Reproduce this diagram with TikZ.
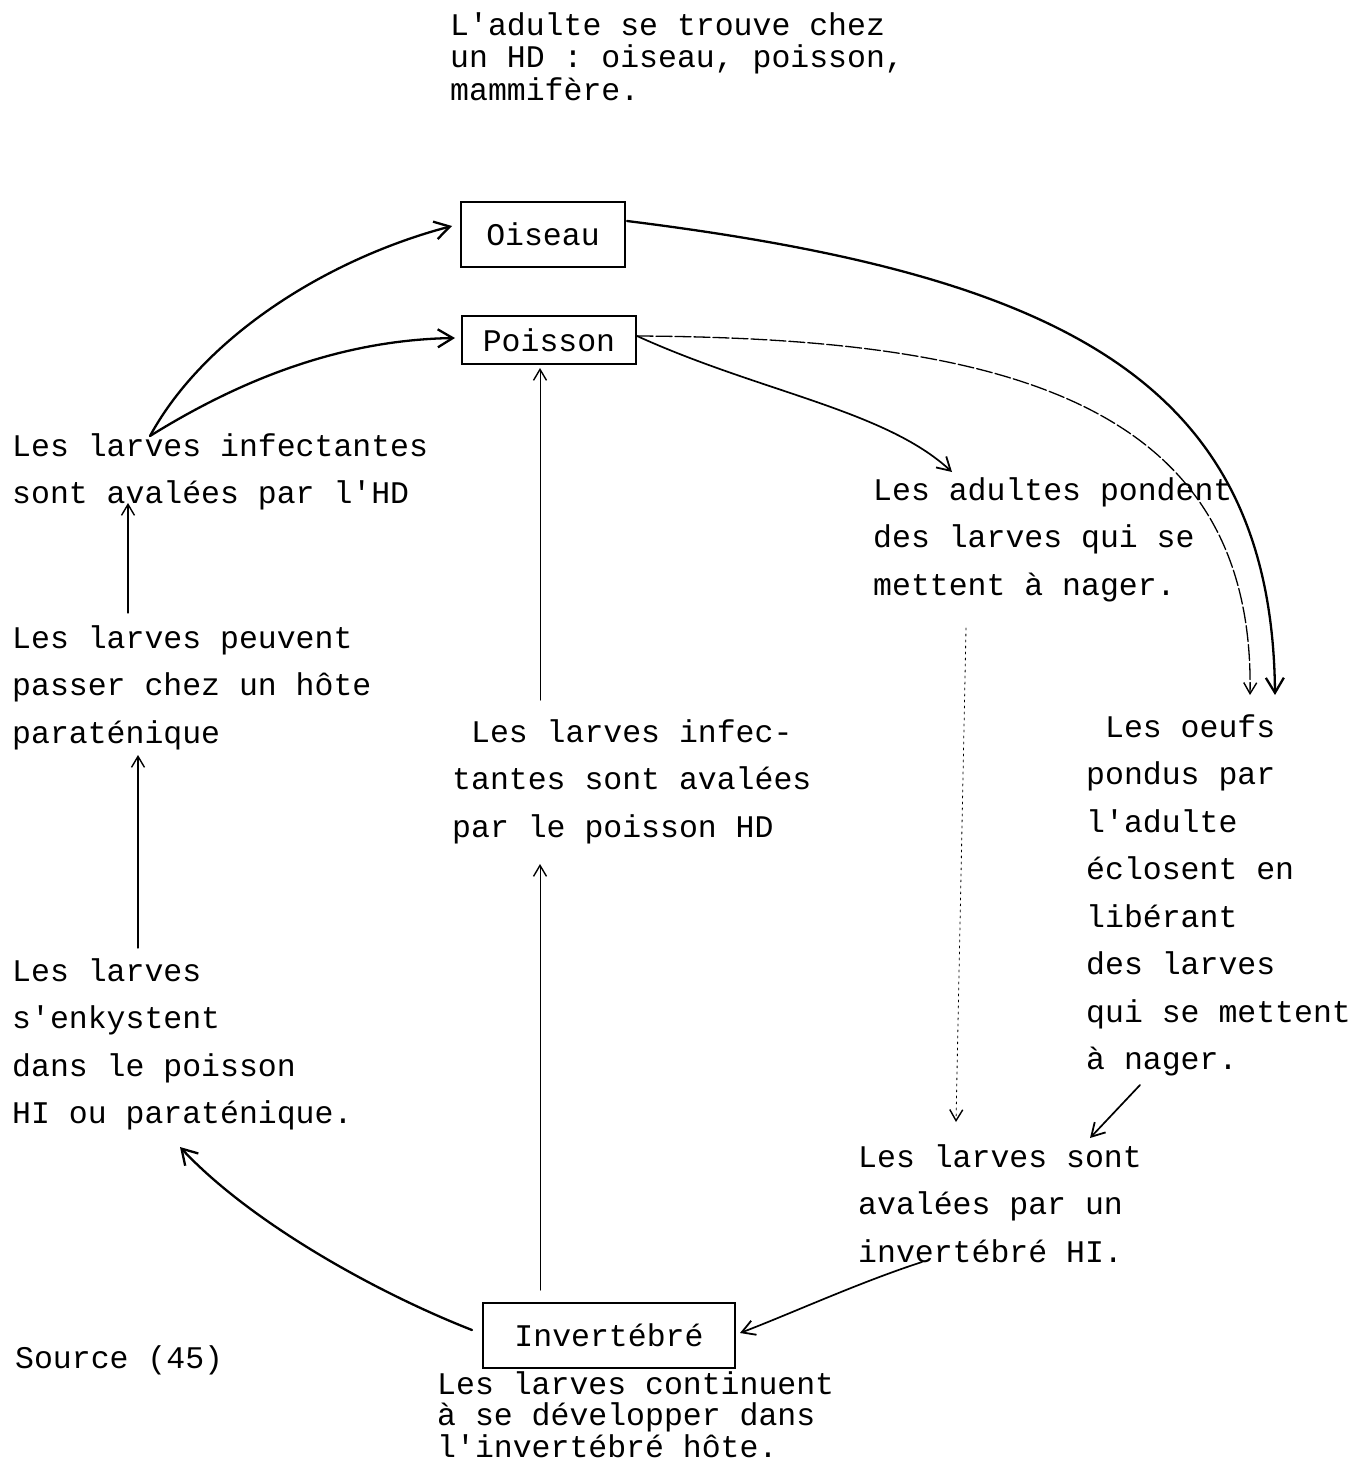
\documentclass[tikz,border=0pt]{standalone}
\usepackage{fontspec}
\setmonofont{Liberation Mono}
\usetikzlibrary{arrows.meta}
\begin{document}
\begin{tikzpicture}[x=1pt,y=-1pt,
  txt/.style={anchor=north west, inner sep=0pt, align=left, font=\ttfamily\fontsize{31.5}{47.5}\selectfont},
  tight/.style={font=\ttfamily\fontsize{31.5}{32.5}\selectfont},
  tighter/.style={font=\ttfamily\fontsize{31.5}{31.5}\selectfont},
  box/.style={draw, line width=1.8pt, inner sep=0pt, font=\ttfamily\fontsize{31.5}{38}\selectfont},
  bigarr/.style={line width=2.3pt, line cap=round, -{Straight Barb[length=15pt,width=18pt,line width=2.3pt]}},
  thinarr/.style={line width=1.3pt, line cap=round, -{Straight Barb[length=11pt,width=13pt,line width=1.4pt]}},
  midarr/.style={line width=1.7pt, line cap=round, -{Straight Barb[length=13pt,width=15pt,line width=1.8pt]}}
]
\useasboundingbox (0,0) rectangle (1358,1461);
\fill[white] (0,0) rectangle (1358,1461);

% texts
\node[txt, tight] (top) at (450,12) {L'adulte se trouve chez\\un HD : oiseau, poisson,\\mammifère.};
\node[txt] (left1) at (12,433) {Les larves infectantes\\sont avalées par l'HD};
\node[txt] (left2) at (12,625) {Les larves peuvent\\passer chez un hôte\\paraténique};
\node[txt] (left3) at (12,958) {Les larves\\s'enkystent\\dans le poisson\\HI ou paraténique.};
\node[txt] (mid) at (452,719) {\ Les larves infec-\\tantes sont avalées\\par le poisson HD};
\node[txt] (right1) at (873,477) {Les adultes pondent\\des larves qui se\\mettent à nager.};
\node[txt] (right2) at (1086,714) {\ Les oeufs\\pondus par\\l'adulte\\éclosent en\\libérant\\des larves\\qui se mettent\\à nager.};
\node[txt] (right3) at (858,1144) {Les larves sont\\avalées par un\\invertébré HI.};
\node[txt, tighter] (bottom) at (437,1371) {Les larves continuent\\à se développer dans\\l'invertébré hôte.};
\node[txt] (src) at (15,1345) {Source (45)};

% boxes
\node[box, minimum width=164pt, minimum height=65pt] (ois) at (543,234.5) {Oiseau};
\node[box, minimum width=174pt, minimum height=48pt] (poi) at (549,340) {Poisson};
\node[box, minimum width=252pt, minimum height=65pt] (inv) at (609,1335.5) {Invertébré};

% connector end points
\coordinate (l1v) at (150,436);
\coordinate (oisin) at (452,226);
\coordinate (poiin) at (455,338);
\coordinate (oisout) at (627,221);
\coordinate (poiout) at (637,336);
\coordinate (oeufsA) at (1250,695);
\coordinate (oeufsB) at (1275,695);
\coordinate (adin) at (952,472);
\coordinate (l1b) at (128,503);
\coordinate (l2t) at (128,613);
\coordinate (l2b) at (138,755);
\coordinate (l3t) at (138,948);
\coordinate (midt) at (540,700);
\coordinate (poib) at (540,368);
\coordinate (midb) at (540,864);
\coordinate (invt) at (540,1290);
\coordinate (invl) at (472,1330);
\coordinate (l3b) at (180,1147);
\coordinate (r3) at (922,1262);
\coordinate (invr) at (740,1333);
\coordinate (r2b) at (1140,1085);
\coordinate (r3t) at (1090,1138);
\coordinate (r1b) at (966,628);
\coordinate (r3d) at (956,1122);

% connectors
\draw[bigarr] (l1v) .. controls (205,335) and (330,258) .. (oisin);
\draw[bigarr] (l1v) .. controls (240,380) and (340,340) .. (poiin);
\draw[bigarr] (oisout) .. controls (1060,275) and (1272,380) .. (oeufsB);
\draw[thinarr, dash pattern=on 16pt off 3pt] (poiout) .. controls (1000,338) and (1255,400) .. (oeufsA);
\draw[midarr] (poiout) .. controls (760,392) and (885,410) .. (adin);
\draw[thinarr] (l2t) -- (l1b);
\draw[thinarr] (l3t) -- (l2b);
\draw[thinarr, line width=1pt] (midt) -- (poib);
\draw[thinarr, line width=1pt] (invt) -- (midb);
\draw[bigarr] (invl) .. controls (375,1292) and (250,1222) .. (l3b);
\draw[midarr] (r3) .. controls (860,1282) and (790,1314) .. (invr);
\draw[midarr] (r2b) -- (r3t);
\draw[thinarr, line width=0.8pt, dash pattern=on 2pt off 4pt] (r1b) -- (r3d);
\end{tikzpicture}
\end{document}
